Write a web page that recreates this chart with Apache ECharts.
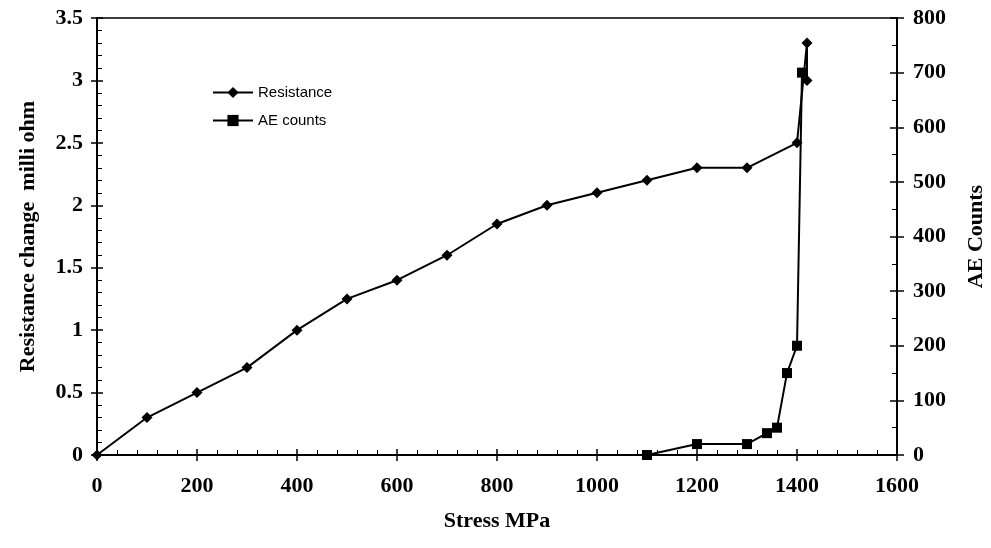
<!DOCTYPE html>
<html>
<head>
<meta charset="utf-8">
<script src="https://cdn.jsdelivr.net/npm/echarts@6/dist/echarts.min.js"></script>
<style>
html,body{margin:0;padding:0;background:#fff;}
#chart{width:991px;height:548px;}
</style>
</head>
<body>
<div id="chart"></div>
<script>
// Data
const resistanceStress = [0, 100, 200, 300, 400, 500, 600, 700, 800, 900, 1000, 1100, 1200, 1300, 1400, 1420, 1420];
const resistanceValues = [0, 0.3, 0.5, 0.7, 1.0, 1.25, 1.4, 1.6, 1.85, 2.0, 2.1, 2.2, 2.3, 2.3, 2.5, 3.3, 3.0];
const aeStress = [1100, 1200, 1300, 1340, 1360, 1380, 1400, 1410];
const aeCounts = [0, 20, 20, 40, 50, 150, 200, 700];
const seriesNames = ['Resistance', 'AE counts'];
const xName = 'Stress MPa';
const yLeftName = 'Resistance change  milli ohm';
const yRightName = 'AE Counts';

const serif = '"Liberation Serif", "Times New Roman", serif';
const labelFont = {fontFamily: serif, fontWeight: 'bold', fontSize: 22, color: '#000'};
const nameFont = {fontFamily: serif, fontWeight: 'bold', fontSize: 22, color: '#000'};
const plain = v => String(v);

const chart = echarts.init(document.getElementById('chart'), null, {renderer: 'canvas'});
chart.setOption({
  animation: false,
  backgroundColor: '#fff',
  grid: {left: 97, right: 94, top: 18, bottom: 93, containLabel: false, outerBoundsMode: 'none',
         show: true, borderColor: '#000', borderWidth: 1.5, backgroundColor: 'transparent'},
  legend: {
    orient: 'vertical', left: 207, top: 80, itemWidth: 40, itemHeight: 14, itemGap: 13,
    textStyle: {fontFamily: '"Liberation Sans", Arial, sans-serif', fontSize: 15, color: '#000'},
    data: seriesNames
  },
  xAxis: [
    {
      type: 'value', min: 0, max: 1600, interval: 200, name: xName, nameLocation: 'middle', nameGap: 55,
      nameTextStyle: nameFont, axisLabel: Object.assign({margin: 20, formatter: plain}, labelFont),
      axisLine: {onZero: false, lineStyle: {color: '#000', width: 2}},
      axisTick: {show: true, inside: false, length: 6, lineStyle: {color: '#000', width: 1.5}},
      splitLine: {show: false}
    },
    {
      type: 'value', min: 0, max: 1600, interval: 200, position: 'bottom',
      axisLabel: {show: false}, axisLine: {show: false, onZero: false},
      axisTick: {show: true, inside: true, length: 6, lineStyle: {color: '#000', width: 1.5}},
      minorTick: {show: true, splitNumber: 5, length: 5, lineStyle: {color: '#000', width: 1}},
      splitLine: {show: false}
    }
  ],
  yAxis: [
    {
      type: 'value', min: 0, max: 3.5, interval: 0.5, position: 'left', name: yLeftName, nameLocation: 'middle', nameGap: 58,
      nameTextStyle: nameFont, axisLabel: Object.assign({margin: 14, formatter: plain}, labelFont),
      axisLine: {show: true, onZero: false, lineStyle: {color: '#000', width: 2}},
      axisTick: {show: true, inside: false, length: 6, lineStyle: {color: '#000', width: 1.5}},
      splitLine: {show: false}
    },
    {
      type: 'value', min: 0, max: 800, interval: 100, position: 'right', name: yRightName, nameLocation: 'middle', nameGap: 68,
      nameRotate: 90,
      nameTextStyle: nameFont, axisLabel: Object.assign({margin: 16, formatter: plain}, labelFont),
      axisLine: {show: true, onZero: false, lineStyle: {color: '#000', width: 2}},
      axisTick: {show: true, inside: false, length: 7, lineStyle: {color: '#000', width: 1.5}},
      splitLine: {show: false}
    },
    {
      type: 'value', min: 0, max: 3.5, interval: 0.5, position: 'left',
      axisLabel: {show: false}, axisLine: {show: false, onZero: false},
      axisTick: {show: true, inside: true, length: 6, lineStyle: {color: '#000', width: 1.5}},
      minorTick: {show: true, splitNumber: 5, length: 5, lineStyle: {color: '#000', width: 1}},
      splitLine: {show: false}
    },
    {
      type: 'value', min: 0, max: 800, interval: 100, position: 'right',
      axisLabel: {show: false}, axisLine: {show: false, onZero: false},
      axisTick: {show: true, inside: true, length: 7, lineStyle: {color: '#000', width: 1.5}},
      minorTick: {show: true, splitNumber: 2, length: 5, lineStyle: {color: '#000', width: 1}},
      splitLine: {show: false}
    }
  ],
  series: [
    {
      name: seriesNames[0], type: 'line', xAxisIndex: 0, yAxisIndex: 0,
      data: resistanceStress.map((x, i) => [x, resistanceValues[i]]),
      symbol: 'diamond', symbolSize: 11, showSymbol: true,
      itemStyle: {color: '#000'}, lineStyle: {color: '#000', width: 2}
    },
    {
      name: seriesNames[1], type: 'line', xAxisIndex: 0, yAxisIndex: 1,
      data: aeStress.map((x, i) => [x, aeCounts[i]]),
      symbol: 'rect', symbolSize: 10, showSymbol: true,
      itemStyle: {color: '#000'}, lineStyle: {color: '#000', width: 2}
    }
  ]
});
</script>
</body>
</html>
